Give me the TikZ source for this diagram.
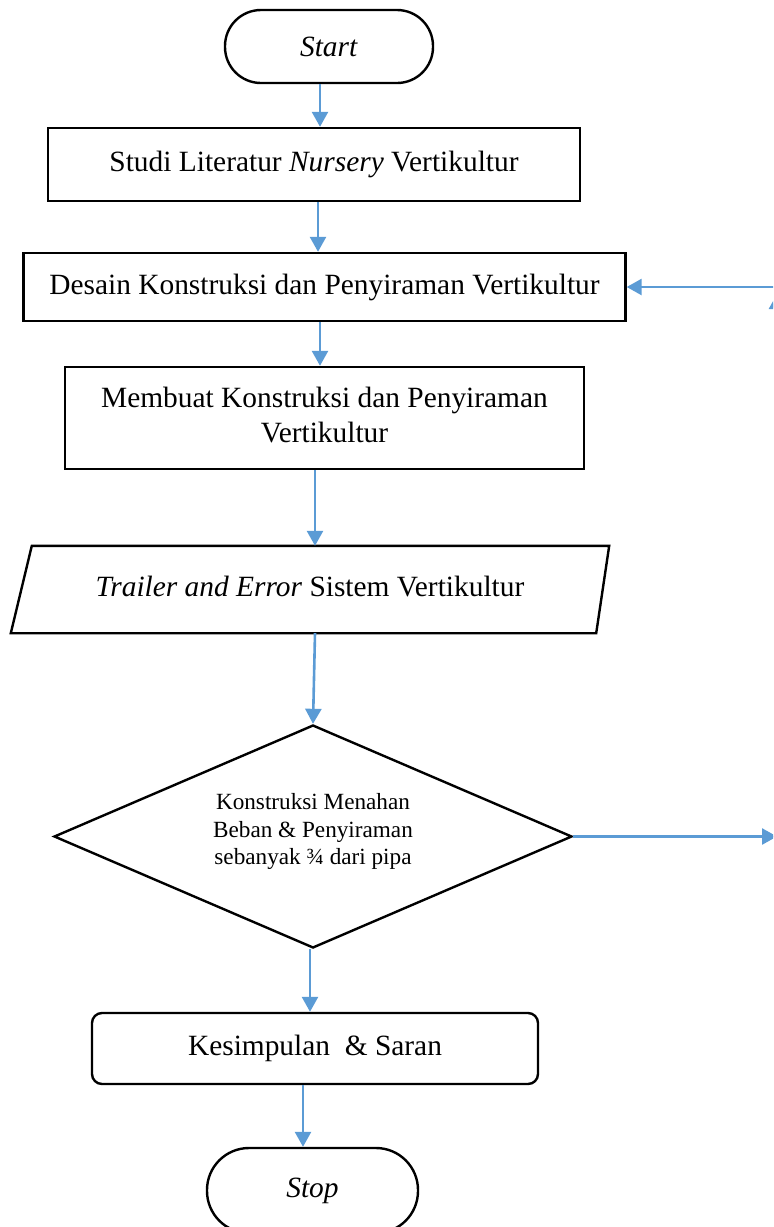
\documentclass[tikz,border=0pt]{standalone}
\usepackage{fontspec}
\setmainfont{Liberation Serif}
\usepackage{tikz}
\usetikzlibrary{shapes.geometric,arrows.meta}
\definecolor{flowblue}{RGB}{91,155,213}

\begin{document}
\begin{tikzpicture}[
			x=0.5pt, y=-0.5pt
			,every node/.append style={draw, line width=1.2pt, align=center, inner sep=2pt, font=\fontsize{14.7}{17.5}\selectfont}
			,terminal/.style={rounded corners=18pt, minimum width=104pt, minimum height=36.5pt}
			,proses/.style={rectangle}
			,io/.style={draw=none, minimum width=298pt, minimum height=42.5pt}
			,cek/.style={diamond, aspect=2.3, inner sep=0pt, minimum width=259pt, minimum height=111.5pt}
			,flow/.style={draw=flowblue, line width=1.3pt, -{Triangle[length=7.5pt,width=8pt]}}
		]
		\useasboundingbox (0,0) rectangle (773,1227);
		\clip (0,0) rectangle (773,1227);

		\node [terminal] (start) at (329,46.5) {\textit{Start}};
		\node [proses, minimum width=266pt, minimum height=36.5pt] (studi) at (314,164.5) {\raisebox{3pt}{Studi Literatur \textit{Nursery} Vertikultur}};
		\node [proses, minimum width=301pt, minimum height=34pt] (desain) at (324.5,287) {Desain Konstruksi dan Penyiraman Vertikultur};
		\node [proses, minimum width=259.5pt, minimum height=51pt] (membuat) at (324.5,418) {\raisebox{1.5pt}{\begin{tabular}{@{}c@{}}Membuat Konstruksi dan Penyiraman\\Vertikultur\end{tabular}}};
		\node [io] (trial) at (310,589.5) {\raisebox{3pt}{\textit{Trailer and Error} Sistem Vertikultur}};
		\draw [line width=1.2pt] ([xshift=10.5pt]trial.north west) -- (trial.north east) -- ([xshift=-6.5pt]trial.south east) -- (trial.south west) -- cycle;
		\node [cek, label={[draw=none, name=ujitext, yshift=2.5pt, font=\fontsize{11.6}{13.75}\selectfont]center:Konstruksi Menahan\\Beban \& Penyiraman\\sebanyak ¾ dari pipa}] (uji) at (313,836.5) {};
		\node [proses, rounded corners=5pt, minimum width=223pt, minimum height=35.5pt] (simpul) at (315,1048.5) {Kesimpulan \ \& Saran};
		\node [terminal, minimum width=105.5pt, minimum height=42.5pt, rounded corners=21pt] (stop) at (312.5,1190.5) {\textit{Stop}};

		\draw [flow] (start.south -| 320,0) -- (studi.north -| 320,0);
		\draw [flow] (studi.south -| 318,0) -- (desain.north -| 318,0);
		\draw [flow] (desain.south -| 320,0) -- (membuat.north -| 320,0);
		\draw [flow] (membuat.south -| 315,0) -- (trial.north -| 315,0);
		\draw [flow] (trial.south -| 315,0) -- (uji.north);
		\draw [flow] (uji.south -| 310,0) -- (simpul.north -| 310,0);
		\draw [flow] (simpul.south -| 303,0) -- (stop.north -| 303,0);

		% jalur kembali, terpotong di tepi kanan
		\coordinate (kanan) at (777,836.5);
		\coordinate (atas) at (777,294);
		\coordinate (masuk) at (790,287);
		\draw [flow] (uji.east) -- (kanan);
		\draw [flow] (kanan) -- (atas);
		\draw [flow] (masuk) -- (desain.east);
	\end{tikzpicture}
\end{document}
